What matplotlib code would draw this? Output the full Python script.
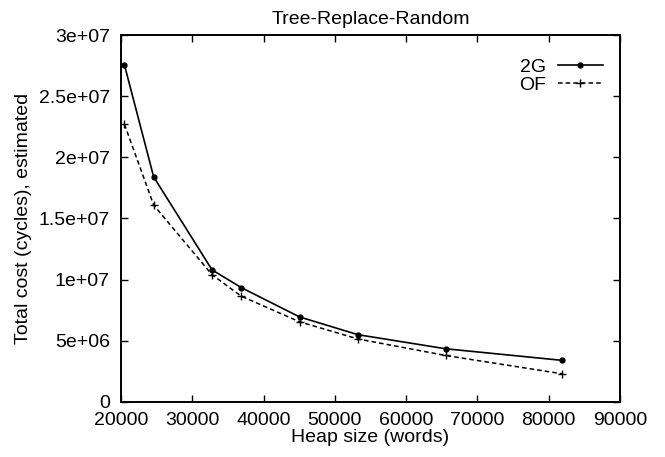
import numpy as np
import matplotlib.pyplot as plt

plt.rcParams['font.family'] = ['Liberation Sans', 'DejaVu Sans']

heap = [20480, 24576, 32768, 36864, 45056, 53248, 65536, 81920]
cost_2g = [2.755e7, 1.84e7, 1.08e7, 9.35e6, 6.95e6, 5.5e6, 4.35e6, 3.4e6]
cost_of = [2.27e7, 1.61e7, 1.04e7, 8.65e6, 6.55e6, 5.15e6, 3.8e6, 2.3e6]

yticks = [0, 5e6, 1e7, 1.5e7, 2e7, 2.5e7, 3e7]
ylabels = ['0', '5e+06', '1e+07', '1.5e+07', '2e+07', '2.5e+07', '3e+07']
xticks = np.arange(20000, 90001, 10000)

fig = plt.figure(figsize=(6.65, 4.57), dpi=100)
ax = fig.add_axes([0.182, 0.1204, 0.7504, 0.803])

ax.plot(heap, cost_2g, '-', color='black', lw=1.2, marker='o', ms=3.5, label='2G')
ax.plot(heap, cost_of, '--', color='black', lw=1.1, marker='+', ms=6, label='OF',
        dashes=(3, 2))

ax.set_xlim(20000, 90000)
ax.set_ylim(0, 3e7)
ax.set_xticks(xticks)
ax.set_xticklabels([str(x) for x in xticks])
ax.set_yticks(yticks)
ax.set_yticklabels(ylabels)
ax.tick_params(direction='in', top=True, right=True, length=5, labelsize=14, width=1)
ax.tick_params(axis='y', pad=8)
ax.tick_params(axis='x', pad=7)
for s in ax.spines.values():
    s.set_linewidth(1.4)

ax.set_title('Tree-Replace-Random', fontsize=14, pad=8)
ax.set_xlabel('Heap size (words)', fontsize=14, labelpad=0)
ax.set_ylabel('Total cost (cycles), estimated', fontsize=14, labelpad=5)
ax.legend(loc='upper right', frameon=False, markerfirst=False, fontsize=14,
          handlelength=2.3, handletextpad=0.6, labelspacing=0.05,
          bbox_to_anchor=(1.0, 0.985))

fig.savefig('out.png', dpi=100)
